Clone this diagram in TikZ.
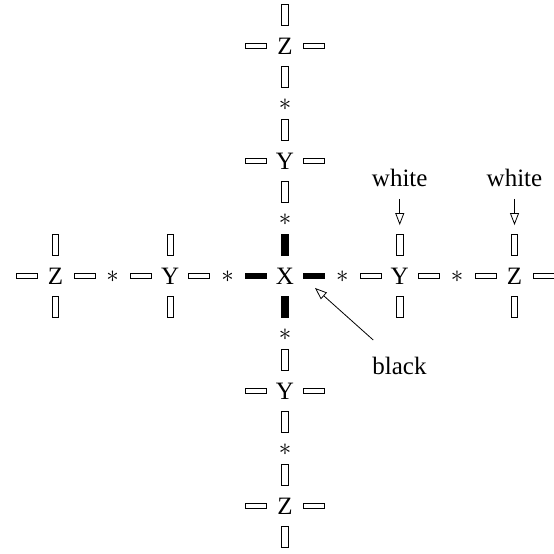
\documentclass[tikz,border=0pt]{standalone}
\usepackage{fontspec}
\setmainfont{Liberation Serif}
\usetikzlibrary{arrows.meta}
\tikzset{
  lett/.style={inner sep=0pt, font=\fontsize{25}{30}\selectfont},
  hrect/.style={draw, line width=0.9pt, minimum width=21pt, minimum height=5pt, inner sep=0pt},
  vrect/.style={draw, line width=0.9pt, minimum width=6.5pt, minimum height=21pt, inner sep=0pt},
  blk/.style={fill=black},
  wht/.style={fill=white},
  startxt/.style={inner sep=0pt, font=\fontsize{30}{34}\selectfont},
  lbl/.style={inner sep=0pt, font=\fontsize{25}{30}\selectfont},
  arr/.style={line width=0.8pt, -{Triangle[open, length=12pt, width=9pt, line width=0.8pt]}},
}
\begin{document}
\begin{tikzpicture}[x=1pt,y=-1pt]
\useasboundingbox (0,0) rectangle (554,554);
\foreach \n/\x/\y/\l/\s in {
  X/285/276/X/blk,
  ZL/55.5/276/Z/wht, YL/170.25/276/Y/wht,
  YR/399.75/276/Y/wht, ZR/514.5/276/Z/wht,
  ZT/285/46/Z/wht, YT/285/161/Y/wht,
  YB/285/391/Y/wht, ZB/285/506/Z/wht}{
  \node[lett] (\n) at (\x,\y) {\l};
  \node[hrect,\s] (\n-l) at (\x-29,\y) {};
  \node[hrect,\s] (\n-r) at (\x+29,\y) {};
  \node[vrect,\s] (\n-u) at (\x,\y-31) {};
  \node[vrect,\s] (\n-d) at (\x,\y+31) {};
}
\foreach \i/\x in {1/112.6, 2/227.6, 3/342.4, 4/457.1}{
  \node[startxt] (sh\i) at (\x,277) {$\ast$};
}
\foreach \i/\y in {1/104.5, 2/219.5, 3/334.5, 4/449.5}{
  \node[startxt] (sv\i) at (285,\y) {$\ast$};
}
\node[lbl] (w1) at (399.75,178) {white};
\node[lbl] (w2) at (514.5,178) {white};
\draw[arr] ([yshift=-12pt]w1.south) -- ([yshift=9pt]YR-u.north);
\draw[arr] ([yshift=-12pt]w2.south) -- ([yshift=9pt]ZR-u.north);
\node[lbl] (bl) at (399.5,366) {black};
\draw[arr] ([shift={(1,-17)}]bl.north west) -- ([shift={(1,9)}]X-r.south);
\end{tikzpicture}
\end{document}
